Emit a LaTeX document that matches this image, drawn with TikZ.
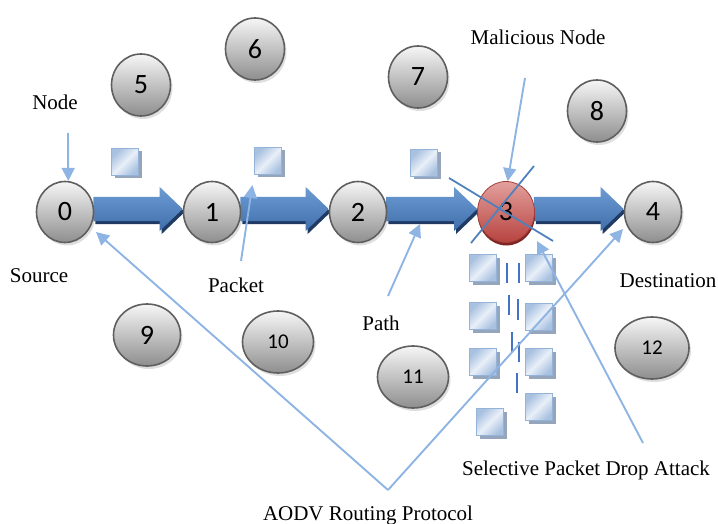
\documentclass[tikz,border=0pt]{standalone}
\usepackage{fontspec}
\setmainfont{Liberation Serif}
\newfontfamily\numfont{Carlito}
\usetikzlibrary{shapes.geometric,shadows,arrows.meta,calc,backgrounds}
\definecolor{gTop}{HTML}{F6F6F6}
\definecolor{gBot}{HTML}{8E8E8E}
\definecolor{gEdge}{HTML}{5F5F5F}
\definecolor{rTop}{HTML}{E3A09D}
\definecolor{rBot}{HTML}{B7433F}
\definecolor{rEdge}{HTML}{A33F3B}
\definecolor{rShadow}{HTML}{7F2523}
\definecolor{arrTop}{HTML}{6D9CD4}
\definecolor{arrBot}{HTML}{3F6EAB}
\definecolor{arrShadow}{HTML}{1F3A63}
\definecolor{pEdge}{HTML}{95B3D7}
\definecolor{pCorner}{HTML}{A8C1E0}
\definecolor{pMid}{HTML}{E8EFF8}
\definecolor{pShadow}{HTML}{8A9BB5}
\definecolor{coC}{HTML}{8EB4E3}
\definecolor{dashC}{HTML}{4472C4}
\definecolor{crossC}{HTML}{4F81BD}
\tikzset{
  gn/.style={ellipse, inner sep=0pt, draw=gEdge, line width=1.6pt,
    top color=gTop, bottom color=gBot,
    drop shadow={shadow xshift=2pt, shadow yshift=-3pt, opacity=0.25},
    font=\numfont\fontsize{28}{28}\selectfont},
  sz/.style={minimum width=57pt, minimum height=61pt},
  szb/.style={minimum width=59pt, minimum height=62pt},
  szw/.style={minimum width=#1pt, minimum height=62pt, font=\numfont\fontsize{21}{21}\selectfont},
  rn/.style={ellipse, inner sep=0pt, minimum width=57pt, minimum height=61pt,
    draw=rEdge, line width=0.8pt, top color=rTop, bottom color=rBot,
    drop shadow={shadow xshift=0.5pt, shadow yshift=-3pt, fill=rShadow, opacity=1},
    font=\numfont\fontsize{28}{28}\selectfont},
  pkt/.style={rectangle, inner sep=0pt, minimum size=27pt, draw=pEdge, line width=1.2pt,
    top color=pCorner, bottom color=pCorner, middle color=pMid, shading angle=45,
    drop shadow={shadow xshift=3pt, shadow yshift=-3pt, fill=pShadow, opacity=0.9}},
  lbl/.style={anchor=base, inner sep=0pt, font=\fontsize{21}{24}\selectfont},
  co/.style={draw=coC, line width=1.9pt, -{Triangle[length=13pt,width=13pt]}},
  dashc/.style={draw=dashC, line width=2.4pt},
  crossc/.style={draw=crossC, line width=1.8pt}
}
\newcommand\blockarr[2]{%
  \path[fill=arrShadow] let \p1=(#1.east), \p2=(#2.west) in
    (\x1+1pt,\y1+12pt) -- (\x2-21pt,\y1+12pt) -- (\x2-21pt,\y1+22pt) -- (\x2+2pt,\y1)
    -- (\x2-21pt,\y1-22pt) -- (\x2-21pt,\y1-12pt) -- (\x1+1pt,\y1-12pt) -- cycle;
  \path[top color=arrTop, bottom color=arrBot] let \p1=(#1.east), \p2=(#2.west) in
    (\x1-1pt,\y1+15pt) -- (\x2-23pt,\y1+15pt) -- (\x2-23pt,\y1+25pt) -- (\x2,\y1+3pt)
    -- (\x2-23pt,\y1-19pt) -- (\x2-23pt,\y1-9pt) -- (\x1-1pt,\y1-9pt) -- cycle;
}
\begin{document}
\begin{tikzpicture}[x=1pt,y=-1pt]
\useasboundingbox (0,0) rectangle (718,524);
% path nodes
\node[gn,sz] (n0) at (65,212) {0};
\node[gn,sz] (n1) at (212,212) {1};
\node[gn,sz] (n2) at (358,212) {2};
\node[rn] (n3) at (506,212) {3};
\node[gn,sz] (n4) at (653,212) {4};
% other nodes
\node[gn,szb] (n5) at (141,85) {5};
\node[gn,szb] (n6) at (255,49) {6};
\node[gn,szb] (n7) at (418,77) {7};
\node[gn,szb] (n8) at (597,111) {8};
\node[gn,minimum width=67pt,minimum height=62pt] (n9) at (147,335) {9};
\node[gn,szw=71] (n10) at (278,342) {10};
\node[gn,szw=71] (n11) at (413,377) {11};
\node[gn,szw=74] (n12) at (652,348) {12};
% block arrows (path)
\begin{scope}[on background layer]
\blockarr{n0}{n1}
\blockarr{n1}{n2}
\blockarr{n2}{n3}
\blockarr{n3}{n4}
\end{scope}
% packets
\node[pkt] (p1) at (125,162) {};
\node[pkt] (p2) at (268,161) {};
\node[pkt] (p3) at (424,163) {};
\node[pkt] (p4) at (483,268) {};
\node[pkt] (p5) at (483,316) {};
\node[pkt] (p6) at (483,362) {};
\node[pkt] (p7) at (539,268) {};
\node[pkt] (p8) at (539,317) {};
\node[pkt] (p9) at (539,362) {};
\node[pkt] (p10) at (539,407) {};
\node[pkt] (p11) at (490,422) {};
% dropped packet dashes
\draw[dashc] (507,263) -- (507,283);
\draw[dashc] (509,295) -- (509,315);
\draw[dashc] (512,332) -- (512,352);
\draw[dashc] (519,263) -- (519,283);
\draw[dashc] (518,299) -- (518,320);
\draw[dashc] (519,342) -- (519,362);
\draw[dashc] (517,373) -- (517,393);
% cross over malicious node
\draw[crossc] (449,178) -- (553,241);
\draw[crossc] (534,166) -- (471,243);
% labels
\node[lbl] (lNode) at (55,110) {Node};
\node[lbl] (lSrc) at (39,282) {Source};
\node[lbl] (lPk) at (236,292) {Packet};
\node[lbl] (lPath) at (381,330) {Path};
\node[lbl] (lMal) at (538,45) {Malicious Node};
\node[lbl] (lDst) at (668,287) {Destination};
\node[lbl] (lSel) at (586,475) {Selective Packet Drop Attack};
\node[lbl] (lAodv) at (368,520) {AODV Routing Protocol};
% callouts
\coordinate (cNode) at (68,133);
\draw[co] (cNode) -- (n0.84);
\coordinate (cPk) at (241,261);
\draw[co, shorten >=10pt] (cPk) -- (p2.south west);
\coordinate (cPath) at (388,296);
\coordinate (cPathT) at (420,224);
\draw[co] (cPath) -- (cPathT);
\coordinate (cMal) at (525,78);
\draw[co] (cMal) -- (n3.87);
\coordinate (cSel) at (643,443);
\coordinate (cSelT) at (537,241);
\draw[co] (cSel) -- (cSelT);
\coordinate (cA) at (388,490);
\coordinate (cA0) at (96,232);
\coordinate (cA4) at (623,229);
\draw[co] (cA) -- (cA0);
\draw[co] (cA) -- (cA4);
\end{tikzpicture}
\end{document}
